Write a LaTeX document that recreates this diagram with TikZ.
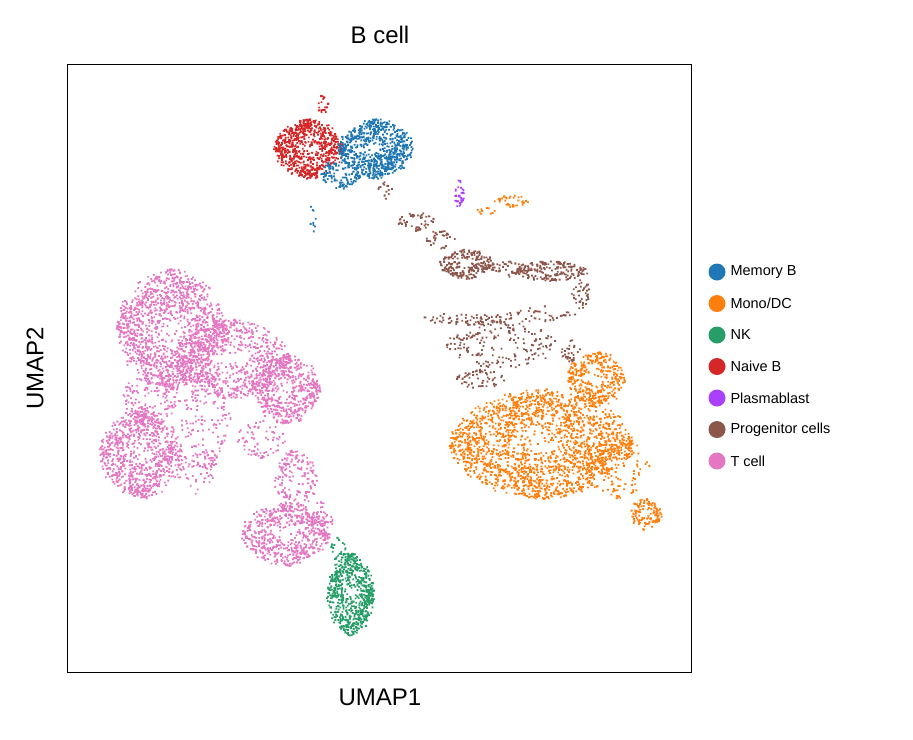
\documentclass[tikz,border=0pt]{standalone}
\usepackage{fontspec}
\setmainfont{Liberation Sans}
\definecolor{memb}{HTML}{1F77B4}
\definecolor{mono}{HTML}{FF7F0E}
\definecolor{nk}{HTML}{279E68}
\definecolor{naive}{HTML}{D62728}
\definecolor{plasma}{HTML}{AA40FC}
\definecolor{prog}{HTML}{8C564B}
\definecolor{tcell}{HTML}{E377C2}
\newcommand{\cloud}[6]{%
  \sparse{#1}{#2}{#3}{#4}{#5}{#6}\sparse{#1}{#2}{#3}{#4}{#5}{#6}\sparse{#1}{#2}{#3}{#4}{#5}{#6}}
\newcommand{\sparse}[6]{%
  \fill[#1] foreach \k in {1,...,#6}{ (#2,-#3) ++ ({360*rnd}:{#4*sqrt(rnd)} and {#5*sqrt(rnd)}) rectangle ++(1.8,1.8) };}
\begin{document}
\begin{tikzpicture}[x=1pt,y=1pt,
  lbl/.style={font=\fontsize{24}{24}\selectfont},
  leg/.style={font=\fontsize{14.5}{15}\selectfont,anchor=west}]
\useasboundingbox (0,0) rectangle (913,-739);
\pgfmathsetseed{7}
% T cell
\cloud{tcell}{170}{330}{55}{60}{450}
\cloud{tcell}{230}{360}{60}{40}{250}
\cloud{tcell}{285}{390}{35}{35}{180}
\cloud{tcell}{140}{455}{42}{45}{280}
\sparse{tcell}{150}{400}{30}{25}{150}
\sparse{tcell}{205}{420}{25}{50}{150}
\sparse{tcell}{195}{470}{20}{25}{60}
\cloud{tcell}{285}{535}{45}{32}{200}
\sparse{tcell}{295}{480}{22}{30}{160}
\sparse{tcell}{260}{440}{25}{20}{70}
\sparse{tcell}{320}{520}{12}{20}{50}
% NK
\cloud{nk}{350}{595}{24}{42}{220}
\sparse{nk}{338}{550}{8}{12}{25}
% Mono/DC
\cloud{mono}{540}{445}{92}{55}{650}
\cloud{mono}{595}{380}{30}{28}{120}
\sparse{mono}{620}{470}{30}{30}{120}
\cloud{mono}{645}{515}{16}{16}{40}
\sparse{mono}{510}{202}{18}{6}{40}
\sparse{mono}{485}{212}{12}{4}{10}
% Naive / Memory B
\cloud{naive}{308}{150}{35}{30}{250}
\sparse{naive}{322}{105}{6}{10}{20}
\cloud{memb}{375}{150}{38}{30}{250}
\sparse{memb}{340}{175}{20}{15}{120}
\sparse{memb}{312}{220}{5}{15}{10}
% Plasmablast
\sparse{plasma}{458}{195}{5}{15}{35}
% Progenitor
\sparse{prog}{385}{190}{8}{10}{15}
\sparse{prog}{415}{222}{20}{10}{50}
\sparse{prog}{440}{240}{15}{10}{30}
\sparse{prog}{465}{265}{28}{15}{220}
\sparse{prog}{510}{270}{20}{8}{40}
\sparse{prog}{550}{272}{38}{10}{180}
\sparse{prog}{580}{295}{10}{15}{40}
\sparse{prog}{465}{320}{50}{6}{80}
\sparse{prog}{540}{315}{35}{8}{40}
\sparse{prog}{500}{345}{55}{25}{180}
\sparse{prog}{570}{352}{10}{12}{30}
\sparse{prog}{480}{380}{25}{10}{60}
% frame
\draw[line width=1pt] (67,-64) rectangle (691,-672);
\node[lbl] at (380,-35) {B cell};
\node[lbl] at (380,-697) {UMAP1};
\node[lbl,rotate=90] at (35,-368) {UMAP2};
\foreach \c/\t [count=\i from 0] in {memb/{Memory B},mono/{Mono/DC},nk/{NK},naive/{Naive B},plasma/{Plasmablast},prog/{Progenitor cells},tcell/{T cell}}{
  \fill[\c] (717,{-272-31.5*\i}) circle (8.5);
  \node[leg] at (727,{-272-31.5*\i}) {\t};
}
\end{tikzpicture}
\end{document}
